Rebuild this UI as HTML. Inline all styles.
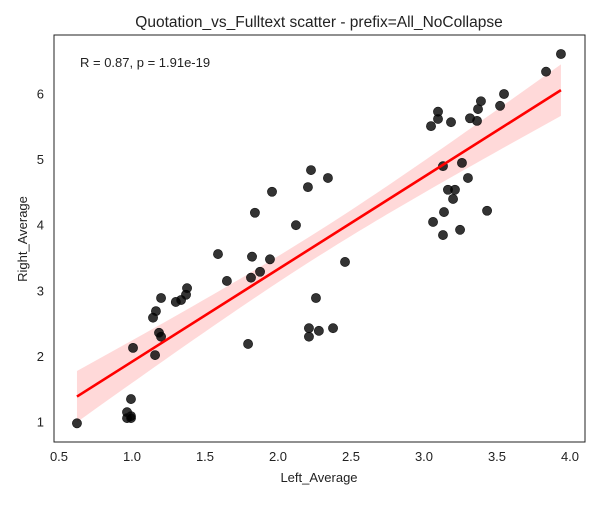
<!DOCTYPE html>
<html><head><meta charset="utf-8"><style>
body{margin:0;background:#fff;font-family:"Liberation Sans","DejaVu Sans",sans-serif}
</style></head><body>
<svg id="chart" width="600" height="500" xmlns="http://www.w3.org/2000/svg">
<text x="319" y="27" text-anchor="middle" font-size="15.5" fill="#222">Quotation_vs_Fulltext scatter - prefix=All_NoCollapse</text>
<g id="band"></g>
<g id="pts"></g>
<g id="reg"></g>
<rect x="54" y="35" width="531" height="407" fill="none" stroke="#222" stroke-width="1"/>
<g id="xt"></g>
<g id="yt"></g>
<text x="319" y="482" text-anchor="middle" font-size="13" fill="#222">Left_Average</text>
<text transform="translate(27,239) rotate(-90)" text-anchor="middle" font-size="13" fill="#222">Right_Average</text>
<text x="80" y="67" font-size="13" fill="#222">R = 0.87, p = 1.91e-19</text>
</svg>
<script>
const xTicks=[0.5,1.0,1.5,2.0,2.5,3.0,3.5,4.0];
const yTicks=[1,2,3,4,5,6];
const xVals=[0.623,0.966,0.993,0.966,0.993,0.993,1.007,1.158,1.199,1.185,1.144,1.164,1.199,1.30,1.336,1.37,1.377,1.589,1.65,1.795,1.815,1.877,1.822,1.945,1.842,1.959,2.123,2.205,2.226,2.342,2.459,2.26,2.212,2.212,2.28,2.377,
3.938,3.836,3.548,3.521,3.390,3.370,3.315,3.363,3.096,3.096,3.048,3.185,3.130,3.260,3.301,3.164,3.212,3.199,3.137,3.432,3.062,3.130,3.247];
const yVals=[0.98,1.15,1.09,1.06,1.06,1.35,2.13,2.02,2.30,2.36,2.59,2.69,2.89,2.83,2.86,2.94,3.04,3.56,3.15,2.19,3.20,3.29,3.52,3.48,4.19,4.51,4.00,4.58,4.84,4.72,3.44,2.89,2.43,2.30,2.39,2.43,
6.61,6.34,6.00,5.82,5.89,5.77,5.63,5.59,5.73,5.62,5.51,5.57,4.90,4.95,4.72,4.54,4.54,4.40,4.20,4.22,4.05,3.85,3.93];
const X=v=>59+(v-0.5)*146, Y=v=>422-(v-1)*65.6;
const NS='http://www.w3.org/2000/svg';
function mk(t,a,p){const e=document.createElementNS(NS,t);for(const k in a)e.setAttribute(k,a[k]);p.appendChild(e);return e;}
const xt=document.getElementById('xt'),yt=document.getElementById('yt');
xTicks.forEach(t=>{const e=mk('text',{x:X(t),y:461,'text-anchor':'middle','font-size':13,fill:'#222'},xt);e.textContent=t.toFixed(1);

});
yTicks.forEach(t=>{const e=mk('text',{x:44,y:Y(t)+4.5,'text-anchor':'end','font-size':13,fill:'#222'},yt);e.textContent=t;

});
const n=xVals.length;let mx=0,my=0;for(let i=0;i<n;i++){mx+=xVals[i];my+=yVals[i];}mx/=n;my/=n;
let sxx=0,sxy=0;for(let i=0;i<n;i++){sxx+=(xVals[i]-mx)**2;sxy+=(xVals[i]-mx)*(yVals[i]-my);}
const b=sxy/sxx,a=my-b*mx;let sse=0;for(let i=0;i<n;i++)sse+=(yVals[i]-a-b*xVals[i])**2;
const s=Math.sqrt(sse/(n-2));
const x0=Math.min(...xVals),x1=Math.max(...xVals);
let up=[],lo=[];for(let k=0;k<=50;k++){const x=x0+(x1-x0)*k/50;const se=2.0*s*Math.sqrt(1/n+(x-mx)**2/sxx);const yh=a+b*x;up.push(X(x)+','+Y(yh+se));lo.unshift(X(x)+','+Y(yh-se));}
const band=mk('polygon',{points:up.concat(lo).join(' '),fill:'#ff0000','fill-opacity':0.15},document.getElementById('band'));


const pts=document.getElementById('pts');
for(let i=0;i<n;i++){const c=mk('circle',{cx:X(xVals[i]),cy:Y(yVals[i]),r:4.6,fill:'#000','fill-opacity':0.8,stroke:'#111','stroke-width':0.6},pts);

}
const ln=mk('line',{x1:X(x0),y1:Y(a+b*x0),x2:X(x1),y2:Y(a+b*x1),stroke:'#ff0000','stroke-width':2.6},document.getElementById('reg'));


</script>
</body></html>
